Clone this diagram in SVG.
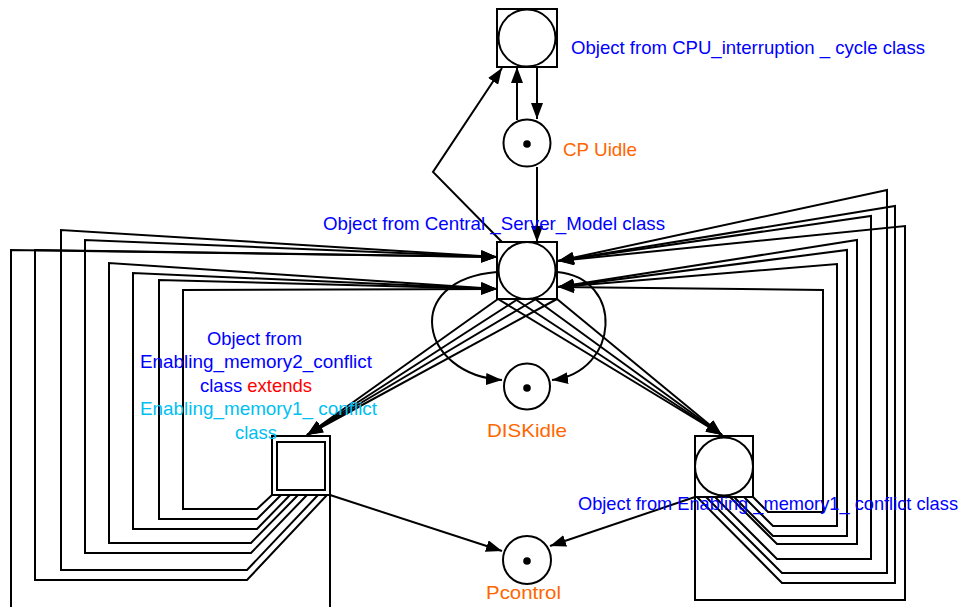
<svg xmlns="http://www.w3.org/2000/svg" width="962" height="607" viewBox="0 0 962 607">
  <style>
    .edge { fill: none; stroke: #000; stroke-width: 2; stroke-linejoin: miter; }
    .shape { fill: #fff; stroke: #000; stroke-width: 2; }
    .token { fill: #000; stroke: none; }
    text { font-family: "Liberation Sans", Arial, sans-serif; font-size: 18.5px; }
    .obj { fill: #0000ff; }
    .place { fill: #ff6600; }
    .ext { fill: #ff0000; }
    .base { fill: #00bff3; }
  </style>
  <defs>
    <marker id="arrow" markerUnits="userSpaceOnUse" markerWidth="16" markerHeight="12" refX="16" refY="6" orient="auto">
      <path d="M0,0 L16,6 L0,12 Z" fill="#000"/>
    </marker>
  </defs>

  <!-- connectors -->
  <g id="connectors" class="edge" marker-end="url(#arrow)">
    <!-- CPU cycle / CPU idle -->
    <path d="M517,120 L517,67"/>
    <path d="M537,67 L537,119"/>
    <path d="M537,167 L537,242"/>
    <path d="M502,242 L433,172 L502,68"/>

    <!-- central server to DISKidle -->
    <path d="M497,272 C400,280 420,375 502,380"/>
    <path d="M557,272 C625,278 620,372 552,380"/>

    <!-- central server to memory2 conflict -->
    <path d="M498,299 L307,435"/>
    <path d="M518,299 L307,435"/>
    <path d="M536,299 L307,435"/>
    <path d="M557,299 L307,435"/>

    <!-- central server to memory1 conflict -->
    <path d="M498,299 L722,435"/>
    <path d="M515,299 L722,435"/>
    <path d="M535,299 L722,435"/>
    <path d="M557,299 L722,435"/>

    <!-- to Pcontrol -->
    <path d="M330,495 L502,551"/>
    <path d="M695,497 L550,546"/>

    <!-- memory2 conflict feedback to central server -->
    <path d="M272,495 L257,509 L183,509 L183,290 L497,289"/>
    <path d="M281,495 L257,519 L159,519 L159,280 L497,289"/>
    <path d="M290,495 L257,529 L133,529 L133,273 L497,289"/>
    <path d="M298,495 L251,543 L109,543 L109,263 L497,289"/>
    <path d="M307,495 L251,553 L85,553 L85,240 L497,257"/>
    <path d="M318,495 L247,570 L61,570 L61,230 L497,257"/>
    <path d="M327,495 L247,580 L35,580 L35,250 L497,257"/>
    <path d="M330,495 L330,615 L11,615 L11,250 L497,257"/>

    <!-- memory1 conflict feedback to central server -->
    <path d="M753,497 L768,512 L823,512 L823,290 L558,287"/>
    <path d="M744,497 L773,526 L837,526 L837,264 L558,287"/>
    <path d="M734,497 L773,536 L847,536 L847,250 L558,287"/>
    <path d="M730,497 L777,544 L857,544 L857,240 L558,287"/>
    <path d="M715,497 L777,559 L871,559 L871,216 L558,261"/>
    <path d="M706,497 L782,573 L887,573 L887,190 L558,261"/>
    <path d="M697,497 L782,583 L895,583 L895,206 L558,261"/>
    <path d="M695,497 L695,600 L905,600 L905,226 L558,261"/>
  </g>

  <!-- nodes -->
  <g id="cpu-interruption-cycle">
    <rect class="shape" x="497" y="9" width="60" height="58"/>
    <circle class="shape" cx="527" cy="38" r="28.5"/>
    <text class="obj" x="571" y="54" textLength="354" lengthAdjust="spacingAndGlyphs">Object from CPU_interruption _ cycle class</text>
  </g>

  <g id="cpu-idle">
    <circle class="shape" cx="527" cy="143" r="23.5"/>
    <circle class="token" cx="527" cy="144" r="3.8"/>
    <text class="place" x="563" y="155.5" textLength="74" lengthAdjust="spacingAndGlyphs">CP Uidle</text>
  </g>

  <g id="central-server-model">
    <rect class="shape" x="497" y="242" width="60" height="57"/>
    <circle class="shape" cx="527" cy="270.5" r="28.5"/>
    <text class="obj" x="323" y="230" textLength="342" lengthAdjust="spacingAndGlyphs">Object from Central _Server_Model class</text>
  </g>

  <g id="disk-idle">
    <circle class="shape" cx="527" cy="386.5" r="23"/>
    <circle class="token" cx="527" cy="388" r="3.8"/>
    <text class="place" x="487" y="437" textLength="80" lengthAdjust="spacingAndGlyphs">DISKidle</text>
  </g>

  <g id="memory2-conflict">
    <rect class="shape" x="272" y="436" width="58" height="59"/>
    <rect class="shape" x="277" y="442" width="48" height="48"/>
    <text class="obj" x="207" y="345" textLength="95" lengthAdjust="spacingAndGlyphs">Object from</text>
    <text class="obj" x="140" y="367.5" textLength="232" lengthAdjust="spacingAndGlyphs">Enabling_memory2_conflict</text>
    <text x="200" y="392"><tspan class="obj">class </tspan><tspan class="ext">extends</tspan></text>
    <text class="base" x="140" y="415" textLength="237" lengthAdjust="spacingAndGlyphs">Enabling_memory1_ conflict</text>
    <text class="base" x="235" y="439" textLength="42" lengthAdjust="spacingAndGlyphs">class</text>
  </g>

  <g id="memory1-conflict">
    <rect class="shape" x="695" y="436" width="58" height="61"/>
    <circle class="shape" cx="724" cy="466.5" r="29"/>
    <text class="obj" x="578" y="510" textLength="380" lengthAdjust="spacingAndGlyphs">Object from Enabling _memory1_ conflict class</text>
  </g>

  <g id="pcontrol">
    <circle class="shape" cx="527" cy="560" r="24"/>
    <circle class="token" cx="527" cy="561" r="3.8"/>
    <text class="place" x="486" y="599" textLength="75" lengthAdjust="spacingAndGlyphs">Pcontrol</text>
  </g>
</svg>
